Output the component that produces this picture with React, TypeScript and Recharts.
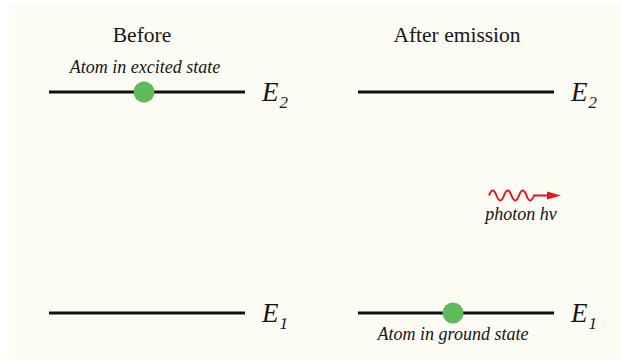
import React from "react";
import { ScatterChart, Scatter, XAxis, YAxis, ReferenceLine, ReferenceDot } from "recharts";

// panels of the diagram
const panels = ["Before", "After emission"];
// energy levels (arbitrary units): E1 = ground, E2 = excited
const levelNames = ["2", "1"];
const levelEnergy = [2, 1];
// where the atom sits in each panel
const atomEnergy = [2, 1];
const atomNotes = ["Atom in excited state", "Atom in ground state"];
const photonText = "photon h\u03bd";

// layout (px along the hidden x axis)
const W = 621;
const H = 362;
const LINE_START = [49, 358];
const LINE_LEN = 196;
const DOT_OFFSET = 95;
const TITLE_X = [142, 457];
const PX_PER_E = 221;
const Y_DOMAIN = [1 - 49 / PX_PER_E, 2 + 92 / PX_PER_E];

const serif: React.CSSProperties = { fontFamily: "Liberation Serif, DejaVu Serif, serif" };
const INK = "#161616";

const atoms = panels.map((p, i) => ({ x: LINE_START[i] + DOT_OFFSET, y: atomEnergy[i], panel: p }));

function textDot(key: string, x: number, y: number, render: (cx: number, cy: number) => React.ReactElement) {
  return (
    <ReferenceDot
      key={key}
      x={x}
      y={y}
      r={0}
      ifOverflow="visible"
      shape={(p: any) => render(p.cx, p.cy)}
    />
  );
}

export default function App() {
  return (
    <div style={{ position: "absolute", left: 0, top: 0, width: W, height: H, background: "#ffffff" }}>
      <div style={{ position: "absolute", left: 9, top: 5, width: W - 9, height: 355, background: "#fcfbf4" }} />
      <div style={{ position: "absolute", left: 0, top: 0 }}>
        <ScatterChart width={W} height={H} margin={{ top: 0, right: 0, bottom: 0, left: 0 }}>
          <XAxis type="number" dataKey="x" domain={[0, W]} allowDataOverflow hide />
          <YAxis type="number" dataKey="y" domain={Y_DOMAIN} allowDataOverflow hide />

          {panels.map((p, i) =>
            levelEnergy.map((e, j) => (
              <ReferenceLine
                key={`lvl-${i}-${j}`}
                segment={[
                  { x: LINE_START[i], y: e },
                  { x: LINE_START[i] + LINE_LEN, y: e },
                ]}
                stroke="#111111"
                strokeWidth={3}
                ifOverflow="visible"
              />
            ))
          )}

          <Scatter
            data={atoms}
            isAnimationActive={false}
            shape={(p: any) => <circle cx={p.cx} cy={p.cy} r={10.5} fill="#5fba5b" />}
          />

          {panels.map((p, i) =>
            textDot(`title-${i}`, TITLE_X[i], levelEnergy[0], (cx, cy) => (
              <text x={cx} y={cy - 50} textAnchor="middle" style={{ ...serif, fontSize: 21.5 }} fill={INK}>
                {p}
              </text>
            ))
          )}

          {textDot("note-0", atoms[0].x + 1, atomEnergy[0], (cx, cy) => (
            <text x={cx} y={cy - 19} textAnchor="middle" style={{ ...serif, fontSize: 18, fontStyle: "italic" }} fill={INK}>
              {atomNotes[0]}
            </text>
          ))}
          {textDot("note-1", atoms[1].x, atomEnergy[1], (cx, cy) => (
            <text x={cx} y={cy + 27} textAnchor="middle" style={{ ...serif, fontSize: 18, fontStyle: "italic" }} fill={INK}>
              {atomNotes[1]}
            </text>
          ))}

          {panels.map((p, i) =>
            levelEnergy.map((e, j) =>
              textDot(`E-${i}-${j}`, LINE_START[i] + LINE_LEN + 17, e, (cx, cy) => (
                <text x={cx} y={cy + 9} style={{ ...serif, fontSize: 27, fontStyle: "italic" }} fill={INK}>
                  E
                  <tspan style={{ fontSize: 17 }} dx={1} dy={7}>
                    {levelNames[j]}
                  </tspan>
                </text>
              ))
            )
          )}

          {textDot("photon", 489, 1.5, (cx, cy) => (
            <g>
              <path
                d={`M${cx},${cy - 7} q3.75,-10 7.5,0 t7.5,0 t7.5,0 t7.5,0 t7.5,0 t7.5,0 L${cx + 59},${cy - 7}`}
                fill="none"
                stroke="#e3171e"
                strokeWidth={2}
              />
              <polygon
                points={`${cx + 58},${cy - 11} ${cx + 72},${cy - 7} ${cx + 58},${cy - 3}`}
                fill="#e3171e"
              />
              <text x={cx + 32} y={cy + 17.5} textAnchor="middle" style={{ ...serif, fontSize: 18, fontStyle: "italic" }} fill={INK}>
                {photonText}
              </text>
            </g>
          ))}
        </ScatterChart>
      </div>
    </div>
  );
}
